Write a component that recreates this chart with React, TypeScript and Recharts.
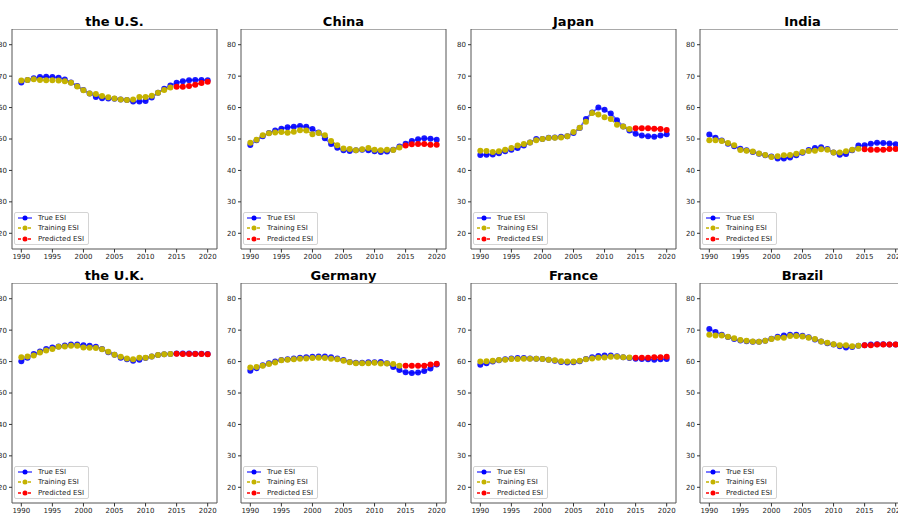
import React from 'react';
import { LineChart, Line, XAxis, YAxis, ReferenceArea, Legend } from 'recharts';

const years = [1990, 1991, 1992, 1993, 1994, 1995, 1996, 1997, 1998, 1999, 2000, 2001, 2002, 2003, 2004, 2005, 2006, 2007, 2008, 2009, 2010, 2011, 2012, 2013, 2014, 2015, 2016, 2017, 2018, 2019, 2020];
const predYears = [2015, 2016, 2017, 2018, 2019, 2020];
const xTicks = [1990, 1995, 2000, 2005, 2010, 2015, 2020];
const yTicks = [20, 30, 40, 50, 60, 70, 80];
const countries = ['the U.S.', 'China', 'Japan', 'India', 'the U.K.', 'Germany', 'France', 'Brazil'];

const usTrue = [68.0, 68.8, 69.3, 69.7, 69.8, 69.7, 69.5, 68.9, 68.0, 66.9, 65.6, 64.5, 63.4, 63.0, 62.9, 62.8, 62.6, 62.4, 61.9, 61.9, 62.1, 63.2, 64.7, 66.0, 67.0, 67.9, 68.4, 68.7, 68.8, 68.8, 68.7];
const usTrain = [68.6, 68.8, 69.0, 68.8, 68.7, 68.7, 68.6, 68.4, 67.9, 66.7, 65.5, 64.5, 64.3, 63.7, 63.3, 62.9, 62.6, 62.4, 62.6, 63.4, 63.4, 63.8, 64.7, 65.6, 66.4];
const usPred = [66.6, 66.6, 66.9, 67.3, 67.8, 68.2];

const cnTrue = [48.1, 49.6, 50.9, 51.9, 52.7, 53.3, 53.7, 53.9, 54.1, 53.9, 53.2, 52.1, 50.2, 48.4, 47.2, 46.4, 46.2, 46.4, 46.6, 46.4, 46.1, 45.9, 46.0, 46.6, 47.6, 48.5, 49.4, 49.9, 50.2, 50.1, 49.8];
const cnTrain = [48.8, 49.8, 51.2, 51.8, 52.1, 52.2, 52.0, 52.3, 52.8, 52.7, 51.5, 51.9, 51.2, 49.4, 48.0, 47.0, 46.8, 46.4, 46.7, 47.1, 46.6, 46.4, 46.6, 46.5, 47.3];
const cnPred = [47.9, 48.3, 48.4, 48.4, 48.2, 48.2];

const jpTrue = [44.9, 45.0, 45.1, 45.5, 46.1, 46.6, 47.1, 47.9, 48.9, 50.0, 50.0, 50.4, 50.5, 50.7, 50.9, 51.9, 53.5, 56.4, 58.4, 60.0, 59.3, 58.1, 56.0, 54.0, 52.7, 51.7, 51.1, 50.9, 50.7, 51.1, 51.5];
const jpTrain = [46.3, 46.2, 45.9, 46.1, 46.6, 47.1, 47.9, 48.4, 48.9, 49.6, 50.0, 50.3, 50.4, 50.5, 50.9, 52.2, 53.6, 55.5, 58.3, 57.8, 56.9, 56.4, 54.5, 54.0, 53.2];
const jpPred = [53.4, 53.4, 53.4, 53.3, 53.2, 52.9];

const inTrue = [51.4, 50.4, 49.5, 48.5, 47.7, 46.9, 46.4, 45.9, 45.3, 44.8, 44.4, 43.8, 43.8, 44.1, 44.8, 45.6, 46.5, 47.1, 47.4, 46.8, 45.7, 45.0, 45.2, 46.4, 47.9, 48.0, 48.5, 48.8, 48.7, 48.6, 48.3];
const inTrain = [49.6, 49.6, 49.4, 48.7, 48.0, 46.5, 46.3, 46.0, 45.4, 44.9, 44.3, 44.5, 44.8, 44.9, 45.3, 45.9, 46.2, 46.3, 46.7, 46.6, 45.7, 45.7, 46.1, 46.6, 46.9];
const inPred = [46.7, 46.6, 46.6, 46.6, 46.8, 46.8];

const ukTrue = [60.1, 61.2, 62.4, 63.2, 64.0, 64.5, 64.8, 65.1, 65.4, 65.4, 65.2, 65.0, 64.7, 64.0, 63.0, 62.2, 61.2, 60.7, 60.3, 60.6, 61.1, 61.6, 62.1, 62.3, 62.4, 62.6, 62.6, 62.6, 62.5, 62.5, 62.4];
const ukTrain = [61.4, 61.6, 61.9, 62.9, 63.5, 64.0, 64.7, 64.8, 65.0, 65.0, 64.5, 64.4, 64.3, 63.9, 63.1, 62.2, 61.5, 61.0, 60.7, 61.2, 61.2, 61.6, 62.1, 62.3, 62.4];
const ukPred = [62.5, 62.4, 62.4, 62.4, 62.4, 62.3];

const deTrue = [57.1, 57.9, 58.8, 59.5, 60.0, 60.5, 60.7, 61.0, 61.2, 61.4, 61.5, 61.6, 61.6, 61.4, 61.0, 60.5, 59.9, 59.6, 59.6, 59.8, 59.8, 59.9, 59.5, 58.3, 57.3, 56.6, 56.4, 56.5, 57.0, 57.8, 59.1];
const deTrain = [58.1, 58.3, 58.7, 59.2, 59.7, 60.4, 60.6, 60.7, 60.9, 61.0, 61.1, 61.2, 61.1, 60.9, 60.7, 60.3, 59.8, 59.5, 59.5, 59.5, 59.6, 59.4, 59.4, 59.2, 58.7];
const dePred = [58.7, 58.7, 58.7, 58.7, 59.1, 59.3];

const frTrue = [59.0, 59.5, 60.0, 60.4, 60.7, 61.0, 61.1, 61.1, 61.0, 60.9, 60.8, 60.6, 60.3, 59.9, 59.7, 59.8, 60.1, 60.8, 61.4, 61.8, 61.9, 61.9, 61.7, 61.4, 61.1, 60.9, 60.8, 60.7, 60.6, 60.7, 60.8];
const frTrain = [60.0, 60.1, 60.3, 60.5, 60.6, 60.8, 60.8, 60.9, 60.9, 60.9, 60.8, 60.6, 60.4, 60.1, 60.0, 60.0, 60.3, 60.7, 61.0, 61.2, 61.3, 61.5, 61.5, 61.4, 61.3];
const frPred = [61.2, 61.2, 61.2, 61.4, 61.4, 61.5];

const brTrue = [70.4, 69.4, 68.5, 67.8, 67.2, 66.7, 66.5, 66.3, 66.3, 66.6, 67.3, 67.9, 68.3, 68.5, 68.5, 68.2, 67.7, 67.0, 66.4, 65.8, 65.4, 64.9, 64.5, 64.6, 65.0, 65.2, 65.4, 65.5, 65.5, 65.4, 65.4];
const brTrain = [68.5, 68.3, 68.3, 67.9, 67.4, 66.9, 66.6, 66.4, 66.3, 66.6, 67.2, 67.6, 67.6, 68.1, 68.1, 68.0, 67.6, 67.2, 66.4, 66.0, 65.5, 65.2, 65.2, 64.9, 65.0];
const brPred = [65.2, 65.2, 65.4, 65.4, 65.4, 65.4];

const trueSeries = [usTrue, cnTrue, jpTrue, inTrue, ukTrue, deTrue, frTrue, brTrue];
const trainSeries = [usTrain, cnTrain, jpTrain, inTrain, ukTrain, deTrain, frTrain, brTrain];
const predSeries = [usPred, cnPred, jpPred, inPred, ukPred, dePred, frPred, brPred];

const FONT = '"DejaVu Sans", sans-serif';
const BLUE = '#0000ff';
const YELLOW = '#c4b200';
const RED = '#ff0000';

const seriesStyles = [
  { key: 'trueEsi', name: 'True ESI', color: BLUE, dash: undefined as string | undefined },
  { key: 'train', name: 'Training ESI', color: YELLOW, dash: '3 2' },
  { key: 'pred', name: 'Predicted ESI', color: RED, dash: '3 2' },
];

const colLefts = [12, 241, 471, 700];
const rowTops = [29, 283];
const PLOT_W = 205;
const PLOT_H = 220;
const YW = 35;

function buildData(idx: number) {
  const t = trueSeries[idx];
  const tr = trainSeries[idx];
  const p = predSeries[idx];
  return years.map((y, i) => {
    const pi = predYears.indexOf(y);
    return {
      year: y,
      trueEsi: t[i],
      train: i < tr.length ? tr[i] : null,
      pred: pi >= 0 ? p[pi] : null,
    };
  });
}

const LegendBox = () => (
  <div
    style={{
      display: 'inline-block',
      border: '1px solid #d4d4d4',
      borderRadius: 2,
      background: 'rgba(255,255,255,0.85)',
      padding: '0px 4px 0px 3px',
      fontFamily: FONT,
      fontSize: 7,
      color: '#222',
      lineHeight: '10.3px',
    }}
  >
    {seriesStyles.map((s) => (
      <div key={s.key} style={{ display: 'flex', alignItems: 'center', height: 10.3, whiteSpace: 'nowrap' }}>
        <svg width={14} height={8} style={{ display: 'block' }}>
          <line x1={0} y1={4} x2={14} y2={4} stroke={s.color} strokeWidth={1.5} strokeDasharray={s.dash} strokeOpacity={s.key === 'trueEsi' ? 0.7 : 1} />
          <circle cx={7} cy={4} r={2.5} fill={s.color} />
        </svg>
        <span style={{ marginLeft: 6 }}>{s.name}</span>
      </div>
    ))}
  </div>
);

function Panel({ idx }: { idx: number }) {
  const col = idx % 4;
  const row = Math.floor(idx / 4);
  const L = colLefts[col];
  const T = rowTops[row];
  const data = buildData(idx);
  const tickStyle = { fontSize: 7, fill: '#222', fontFamily: FONT };
  return (
    <>
      <div
        style={{
          position: 'absolute',
          left: L,
          top: T - 14,
          width: PLOT_W,
          textAlign: 'center',
          fontFamily: FONT,
          fontWeight: 'bold',
          fontSize: 13,
          lineHeight: '13px',
          color: '#000',
          whiteSpace: 'nowrap',
        }}
      >
        {countries[idx]}
      </div>
      <div style={{ position: 'absolute', left: L - YW, top: T }}>
        <LineChart width={YW + PLOT_W + 10} height={PLOT_H + 20} data={data} margin={{ top: 0, right: 10, bottom: 0, left: 0 }}>
          <XAxis
            dataKey="year"
            type="number"
            domain={[1988.5, 2021.5]}
            ticks={xTicks}
            tick={tickStyle}
            tickSize={3.5}
            tickMargin={2}
            axisLine={false}
            tickLine={{ stroke: '#333' }}
            height={20}
            allowDataOverflow
          />
          <YAxis
            type="number"
            domain={[15, 85]}
            ticks={yTicks}
            tick={tickStyle}
            tickSize={3}
            tickMargin={2}
            axisLine={false}
            tickLine={{ stroke: '#333' }}
            width={YW}
            allowDataOverflow
          />
          <ReferenceArea x1={1988.5} x2={2021.5} y1={15} y2={85} fill="none" stroke="#555" strokeWidth={1} ifOverflow="visible" />
          <Line
            dataKey="trueEsi"
            name="True ESI"
            stroke={BLUE}
            strokeOpacity={0.6}
            strokeWidth={1.8}
            dot={{ r: 3, fill: BLUE, stroke: BLUE, strokeWidth: 0, fillOpacity: 0.9 }}
            isAnimationActive={false}
            connectNulls={false}
          />
          <Line
            dataKey="train"
            name="Training ESI"
            stroke={YELLOW}
            strokeWidth={1.5}
            strokeDasharray="3 2"
            dot={{ r: 3, fill: YELLOW, stroke: YELLOW, strokeWidth: 0 }}
            isAnimationActive={false}
            connectNulls={false}
          />
          <Line
            dataKey="pred"
            name="Predicted ESI"
            stroke={RED}
            strokeWidth={1.5}
            strokeDasharray="3 2"
            dot={{ r: 3, fill: RED, stroke: RED, strokeWidth: 0 }}
            isAnimationActive={false}
            connectNulls={false}
          />
          <Legend
            layout="horizontal"
            verticalAlign="middle"
            align="center"
            content={() => <LegendBox />}
            wrapperStyle={{ left: YW + 2, top: 183, width: 'auto', height: 'auto' }}
          />
        </LineChart>
      </div>
    </>
  );
}

export default function App() {
  return (
    <div
      style={{
        position: 'fixed',
        left: 0,
        top: 0,
        width: 898,
        height: 513,
        overflow: 'hidden',
        background: '#fff',
      }}
    >
      {countries.map((_, i) => (
        <Panel key={i} idx={i} />
      ))}
    </div>
  );
}
